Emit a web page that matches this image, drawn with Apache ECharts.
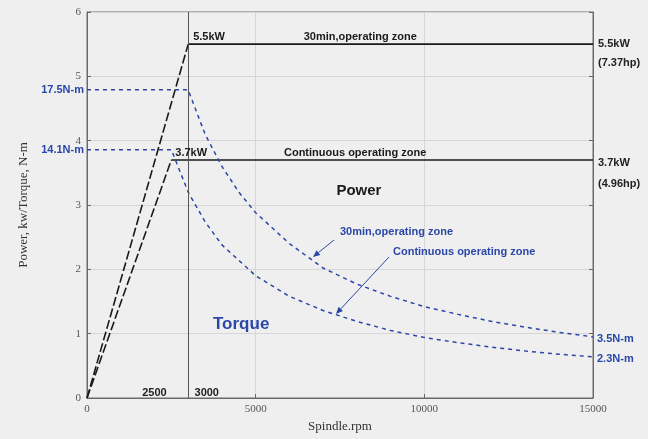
<!DOCTYPE html>
<html>
<head>
<meta charset="utf-8">
<script src="https://cdn.jsdelivr.net/npm/echarts@6/dist/echarts.min.js"></script>
<style>
html,body{margin:0;padding:0;background:#efefef;}
#c{width:648px;height:439px;}
</style>
</head>
<body>
<div id="c"></div>
<script>
// ---- data ----
const speedTicks = [0, 5000, 10000, 15000];
const powerTicks = [0, 1, 2, 3, 4, 5, 6];

const ramp30Rpm = [0, 3000];
const ramp30Kw = [0, 5.5];
const flat30Rpm = [3000, 15000];
const flat30Kw = [5.5, 5.5];

const rampContRpm = [0, 2500];
const rampContKw = [0, 3.7];
const flatContRpm = [2500, 15000];
const flatContKw = [3.7, 3.7];

const torque30Rpm = [0, 3000, 3500, 4000, 4500, 5000, 6000, 7000, 8000, 9000, 10000, 11000, 12000, 13000, 14000, 15000];
const torque30Val = [4.79, 4.79, 4.1, 3.6, 3.2, 2.88, 2.4, 2.02, 1.77, 1.58, 1.42, 1.3, 1.19, 1.1, 1.02, 0.95];
const torqueContRpm = [0, 2500, 3000, 3500, 4000, 5000, 6000, 7000, 8000, 9000, 10000, 11000, 12000, 13000, 14000, 15000];
const torqueContVal = [3.86, 3.86, 3.2, 2.74, 2.38, 1.9, 1.58, 1.36, 1.19, 1.05, 0.94, 0.86, 0.79, 0.73, 0.68, 0.64];

const baseSpeed = 3000;

function pairs(xs, ys) { return xs.map((x, i) => [x, ys[i]]); }

const BLUE = '#2b47a8';
const BLACK = '#1a1a1a';

const chart = echarts.init(document.getElementById('c'), null, {renderer: 'canvas'});

const serif = '"Liberation Serif", "DejaVu Serif", serif';
const sans = '"Liberation Sans", Arial, sans-serif';

chart.setOption({
  backgroundColor: '#efefef',
  animation: false,
  grid: {left: 87, right: 55, top: 12, bottom: 41, show: true, borderColor: '#6a6a6a', borderWidth: 1},
  xAxis: {
    type: 'value', min: speedTicks[0], max: speedTicks[speedTicks.length - 1], interval: 5000,
    name: 'Spindle.rpm', nameLocation: 'middle', nameGap: 20,
    nameTextStyle: {fontFamily: serif, fontSize: 13, color: '#333'},
    axisLine: {lineStyle: {color: '#6a6a6a', width: 1}},
    axisTick: {inside: true, length: 4, lineStyle: {color: '#6a6a6a'}},
    axisLabel: {fontFamily: serif, fontSize: 11, color: '#555', margin: 6, formatter: v => String(v)},
    splitLine: {show: true, lineStyle: {color: '#d6d6d6', width: 1}}
  },
  yAxis: [{
    type: 'value', min: powerTicks[0], max: powerTicks[powerTicks.length - 1], interval: 1,
    name: 'Power, kw/Torque, N-m', nameLocation: 'middle', nameGap: 57,
    nameTextStyle: {fontFamily: serif, fontSize: 13, color: '#333'},
    axisLine: {show: true, lineStyle: {color: '#6a6a6a', width: 1}},
    axisTick: {inside: true, length: 4, lineStyle: {color: '#6a6a6a'}},
    axisLabel: {fontFamily: serif, fontSize: 11, color: '#555', margin: 6},
    splitLine: {show: true, lineStyle: {color: '#d6d6d6', width: 1}}
  }, {
    type: 'value', position: 'right', min: powerTicks[0], max: powerTicks[powerTicks.length - 1], interval: 1,
    axisLine: {show: true, lineStyle: {color: '#6a6a6a', width: 1}},
    axisTick: {show: true, inside: true, length: 4, lineStyle: {color: '#6a6a6a'}},
    axisLabel: {show: false}, splitLine: {show: false}
  }],
  series: [
    {type: 'line', data: pairs(ramp30Rpm, ramp30Kw), symbol: 'none',
     lineStyle: {color: BLACK, width: 1.6, type: [9, 3]},
     markLine: {silent: true, symbol: 'none', label: {show: false},
       lineStyle: {color: '#555', width: 1, type: 'solid'},
       data: [{xAxis: baseSpeed}]}},
    {type: 'line', data: pairs(flat30Rpm, flat30Kw), symbol: 'none', lineStyle: {color: BLACK, width: 1.6}},
    {type: 'line', data: pairs(rampContRpm, rampContKw), symbol: 'none', lineStyle: {color: BLACK, width: 1.6, type: [9, 3]}},
    {type: 'line', data: pairs(flatContRpm, flatContKw), symbol: 'none', lineStyle: {color: BLACK, width: 1.6}},
    {type: 'line', data: pairs(torque30Rpm, torque30Val), symbol: 'none', lineStyle: {color: BLUE, width: 1.5, type: [4, 4]}},
    {type: 'line', data: pairs(torqueContRpm, torqueContVal), symbol: 'none', lineStyle: {color: BLUE, width: 1.5, type: [4, 4]}}
  ]
});

function px(x, y) { return chart.convertToPixel({gridIndex: 0}, [x, y]); }
function txt(text, x, y, align, color, size, family, weight) {
  return {type: 'text', x: x, y: y, z: 100,
    style: {text: text, fill: color, font: (weight || 'bold') + ' ' + size + 'px ' + (family || sans),
      textAlign: align, textVerticalAlign: 'middle'}};
}
const g = [];
const top30 = px(baseSpeed, ramp30Kw[1]);
const topCont = px(rampContRpm[1], rampContKw[1]);
const rightEdge = px(15000, 0)[0];
const leftEdge = px(0, 0)[0];
const bottom = px(0, 0)[1];

g.push(txt('5.5kW', top30[0] + 5, top30[1] - 7, 'left', BLACK, 11));
g.push(txt('30min,operating zone', px(8100, 0)[0], top30[1] - 7, 'center', BLACK, 11));
g.push(txt('3.7kW', topCont[0] + 4, topCont[1] - 7, 'left', BLACK, 11));
g.push(txt('Continuous operating zone', px(7950, 0)[0], topCont[1] - 7, 'center', BLACK, 11));
g.push(txt('Power', px(8060, 3.22)[0], px(8060, 3.22)[1], 'center', BLACK, 15));
g.push(txt('Torque', px(4570, 1.15)[0], px(4570, 1.15)[1], 'center', BLUE, 17));

g.push(txt('5.5kW', rightEdge + 5, top30[1], 'left', '#222', 11));
g.push(txt('(7.37hp)', rightEdge + 5, top30[1] + 19, 'left', '#222', 11));
g.push(txt('3.7kW', rightEdge + 5, topCont[1] + 3, 'left', '#222', 11));
g.push(txt('(4.96hp)', rightEdge + 5, topCont[1] + 24, 'left', '#222', 11));
g.push(txt('3.5N-m', rightEdge + 4, px(15000, torque30Val[torque30Val.length - 1])[1] + 2, 'left', BLUE, 11));
g.push(txt('2.3N-m', rightEdge + 4, px(15000, torqueContVal[torqueContVal.length - 1])[1] + 2, 'left', BLUE, 11));

g.push(txt('17.5N-m', leftEdge - 3, px(0, torque30Val[0])[1], 'right', BLUE, 11));
g.push(txt('14.1N-m', leftEdge - 3, px(0, torqueContVal[0])[1], 'right', BLUE, 11));

g.push(txt('2500', px(2000, 0)[0], bottom - 5, 'center', '#222', 11));
g.push(txt('3000', px(3550, 0)[0], bottom - 5, 'center', '#222', 11));

g.push(txt('30min,operating zone', 340, 232, 'left', BLUE, 11));
g.push(txt('Continuous operating zone', 393, 252, 'left', BLUE, 11));

function arrow(x1, y1, x2, y2) {
  const a = Math.atan2(y2 - y1, x2 - x1);
  const L = 7, W = 3;
  const bx = x2 - L * Math.cos(a), by = y2 - L * Math.sin(a);
  const nx = -Math.sin(a) * W, ny = Math.cos(a) * W;
  g.push({type: 'line', z: 100, shape: {x1: x1, y1: y1, x2: bx, y2: by}, style: {stroke: BLUE, lineWidth: 1}});
  g.push({type: 'polygon', z: 100, shape: {points: [[x2, y2], [bx + nx, by + ny], [bx - nx, by - ny]]}, style: {fill: BLUE}});
}
arrow(334, 240, 313, 257);
arrow(389, 257, 336, 314);

chart.setOption({graphic: g});
</script>
</body>
</html>
